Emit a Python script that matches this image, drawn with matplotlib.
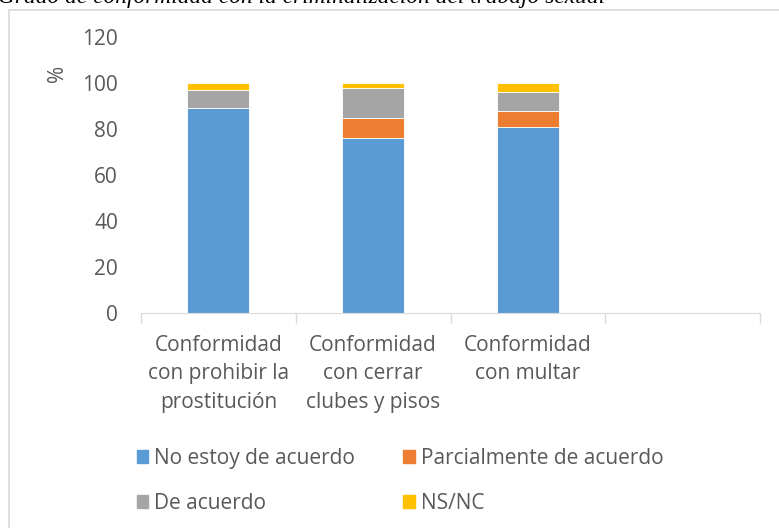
import numpy as np
import matplotlib
matplotlib.use("Agg")
import matplotlib.pyplot as plt
from matplotlib.patches import Rectangle, Patch

# data
categories = ["Conformidad\ncon prohibir la\nprostitución",
              "Conformidad\ncon cerrar\nclubes y pisos",
              "Conformidad\ncon multar",
              ""]
series_names = ["No estoy de acuerdo", "Parcialmente de acuerdo", "De acuerdo", "NS/NC"]
no_acuerdo = [89, 76, 81]
parcial = [0, 9, 7]
de_acuerdo = [8, 13, 8]
ns_nc = [3, 2, 4]
colors = ["#5B9BD5", "#ED7D31", "#A5A5A5", "#FFC000"]
yticks = [0, 20, 40, 60, 80, 100, 120]
title = "Grado de conformidad con la criminalización del trabajo sexual"

plt.rcParams['font.family'] = ['Open Sans', 'DejaVu Sans']
text_col = "#595959"
fs = 15

fig = plt.figure(figsize=(7.79, 5.28), dpi=100)
ax = fig.add_axes([141/779, 1 - 313/528, (760 - 141)/779, (313 - 37)/528])

x = np.arange(len(no_acuerdo))
bottom = np.zeros(len(x))
for vals, col in zip([no_acuerdo, parcial, de_acuerdo, ns_nc], colors):
    vals = np.array(vals, dtype=float)
    ax.bar(x, vals, width=0.4, bottom=bottom, color=col, edgecolor="white", linewidth=0.6)
    bottom += vals

ax.set_xlim(-0.5, len(categories) - 0.5)
ax.set_ylim(0, 120)
ax.set_yticks(yticks)
ax.tick_params(axis="y", length=0, labelsize=fs, labelcolor=text_col, pad=16.5)

# category boundaries as tick marks, labels centred between them
ax.set_xticks(np.arange(len(categories) + 1) - 0.5)
ax.set_xticklabels([])
ax.set_xticks(np.arange(len(categories)), minor=True)
ax.set_xticklabels(categories, minor=True, linespacing=1.45)
ax.tick_params(axis="x", which="major", length=7, color="#D9D9D9", width=1)
ax.tick_params(axis="x", which="minor", length=0, labelsize=fs, labelcolor=text_col, pad=16)

for s in ["top", "right", "left"]:
    ax.spines[s].set_visible(False)
ax.spines["bottom"].set_color("#D9D9D9")

fig.text(57/779, 1 - 73/528, "%", rotation=90, ha="center", va="center",
         fontsize=fs, color=text_col)

handles = [Patch(color=c) for c in colors]
order = [0, 2, 1, 3]
fig.legend([handles[i] for i in order], [series_names[i] for i in order],
           loc="upper left", bbox_to_anchor=(118/779, 1 - 429/528), ncol=2,
           frameon=False, fontsize=fs, labelcolor=text_col,
           handlelength=0.55, handleheight=0.55, handletextpad=0.3,
           columnspacing=2.3, labelspacing=1.15)

# outer chart border, clipped on right and bottom as in the reference
fig.patches.append(Rectangle((9/779, -0.05), 1.1, 1 - 10/528 + 0.05,
                             transform=fig.transFigure, fill=False,
                             edgecolor="#D9D9D9", linewidth=1.2))

# caption above the chart, cut at the top edge like in the reference
fig.text(-2/779, 1 - 3/528, title, ha="left", va="baseline",
         fontsize=16.8, style="italic", family="Liberation Serif")

fig.savefig("out.png", dpi=100)
